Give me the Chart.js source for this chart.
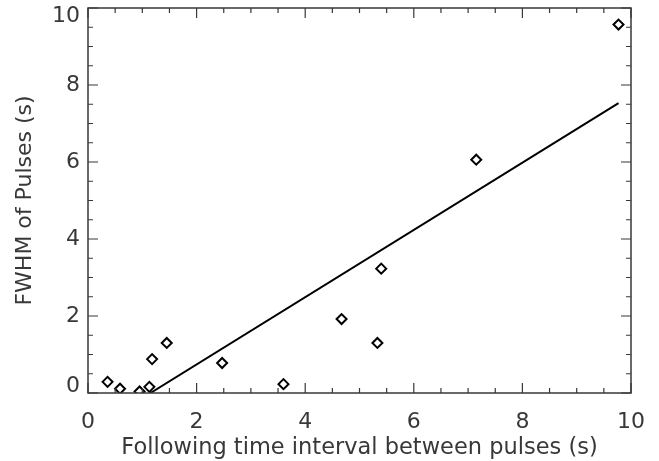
<!DOCTYPE html>
<html>
<head>
<meta charset="utf-8">
<script src="https://cdn.jsdelivr.net/npm/chart.js@4.4.0/dist/chart.umd.min.js"></script>
<style>
  html, body { margin: 0; padding: 0; background: #fff; }
  #wrap { width: 659px; height: 461px; }
</style>
</head>
<body>
<div id="wrap"><canvas id="myChart" width="659" height="461"></canvas></div>
<script>
// pulse data
const intervalX = [0.36, 0.59, 0.95, 1.13, 1.18, 1.45, 2.47, 3.60, 4.67, 5.33, 5.40, 7.15, 9.77];
const fwhmY = [0.29, 0.11, 0.04, 0.16, 0.88, 1.30, 0.78, 0.23, 1.92, 1.30, 3.23, 6.06, 9.57];

// fitted line end points
const fitX = [1.15, 9.77];
const fitY = [0.0, 7.53];

// tick labels on both axes
const xTickValues = [0, 2, 4, 6, 8, 10];
const yTickValues = [0, 2, 4, 6, 8, 10];

const inkColor = '#383838';
const fontFamily = '"DejaVu Sans", "Liberation Sans", sans-serif';

let points = [];
for (let i = 0; i < intervalX.length; i++) {
    points.push({ x: intervalX[i], y: fwhmY[i] });
}
let fitLine = [];
for (let i = 0; i < fitX.length; i++) {
    fitLine.push({ x: fitX[i], y: fitY[i] });
}

// IDL style box: frame on all four sides with inward ticks
const boxPlugin = {
    id: 'boxPlugin',
    afterDatasetsDraw(chart) {
        const ctx = chart.ctx;
        const area = chart.chartArea;
        const xs = chart.scales.x;
        const ys = chart.scales.y;
        ctx.save();
        ctx.strokeStyle = inkColor;
        ctx.lineWidth = 1.5;
        ctx.strokeRect(area.left, area.top, area.right - area.left, area.bottom - area.top);
        ctx.lineWidth = 1.2;
        ctx.beginPath();
        for (let v = xs.min; v <= xs.max + 1e-9; v += 0.5) {
            const px = xs.getPixelForValue(v);
            const len = (Math.abs(v % 2) < 1e-9) ? 10 : 5;
            ctx.moveTo(px, area.bottom);
            ctx.lineTo(px, area.bottom - len);
            ctx.moveTo(px, area.top);
            ctx.lineTo(px, area.top + len);
        }
        for (let v = ys.min; v <= ys.max + 1e-9; v += 0.5) {
            const py = ys.getPixelForValue(v);
            const len = (Math.abs(v % 2) < 1e-9) ? 10 : 5;
            ctx.moveTo(area.left, py);
            ctx.lineTo(area.left + len, py);
            ctx.moveTo(area.right, py);
            ctx.lineTo(area.right - len, py);
        }
        ctx.stroke();
        ctx.restore();
    }
};

const ctx = document.getElementById('myChart');

const config = {
    type: 'scatter',
    data: {
        datasets: [{
            label: 'Pulses',
            data: points,
            pointStyle: 'rectRot',
            pointRadius: 5,
            pointBorderWidth: 2,
            borderColor: '#000',
            backgroundColor: '#fff',
            showLine: false
        }, {
            label: 'Fit',
            data: fitLine,
            showLine: true,
            borderColor: '#000',
            borderWidth: 2,
            pointRadius: 0,
            fill: false
        }]
    },
    options: {
        responsive: false,
        animation: false,
        layout: {
            padding: { top: 8, right: 28, left: 0, bottom: 0 }
        },
        plugins: {
            legend: { display: false },
            tooltip: { enabled: false }
        },
        scales: {
            x: {
                type: 'linear',
                min: 0,
                max: 10,
                afterBuildTicks: (scale) => {
                    scale.ticks = xTickValues.map(v => ({ value: v }));
                },
                afterFit: (scale) => {
                    scale.height = 68;
                    scale.paddingLeft = 0;
                    scale.paddingRight = 0;
                },
                grid: { display: false, drawTicks: false },
                border: { display: false },
                ticks: {
                    color: inkColor,
                    padding: 16,
                    maxRotation: 0,
                    font: { family: fontFamily, size: 22 }
                },
                title: {
                    display: true,
                    text: 'Following time interval between pulses (s)',
                    color: inkColor,
                    padding: { top: 0, bottom: 0 },
                    font: { family: fontFamily, size: 22.5, lineHeight: 1.15 }
                }
            },
            y: {
                type: 'linear',
                min: 0,
                max: 10,
                afterBuildTicks: (scale) => {
                    scale.ticks = yTickValues.map(v => ({ value: v }));
                },
                afterFit: (scale) => {
                    scale.width = 88;
                    scale.paddingTop = 0;
                    scale.paddingBottom = 0;
                },
                grid: { display: false, drawTicks: false },
                border: { display: false },
                ticks: {
                    color: inkColor,
                    padding: 8,
                    // first and last labels are pulled inside the box, as in the original
                    callback: (value, index, ticks) => {
                        if (index === 0) return [String(value), ''];
                        if (index === ticks.length - 1) return ['', String(value)];
                        return String(value);
                    },
                    font: (c) => {
                        const n = yTickValues.length;
                        if (c.index === 0) return { family: fontFamily, size: 22, lineHeight: '14px' };
                        if (c.index === n - 1) return { family: fontFamily, size: 22, lineHeight: '16px' };
                        return { family: fontFamily, size: 22 };
                    }
                },
                title: {
                    display: true,
                    text: 'FWHM of Pulses (s)',
                    color: inkColor,
                    padding: { top: 12, bottom: 0 },
                    font: { family: fontFamily, size: 22 }
                }
            }
        }
    },
    plugins: [boxPlugin]
};

let myChart = new Chart(ctx, config);
</script>
</body>
</html>
